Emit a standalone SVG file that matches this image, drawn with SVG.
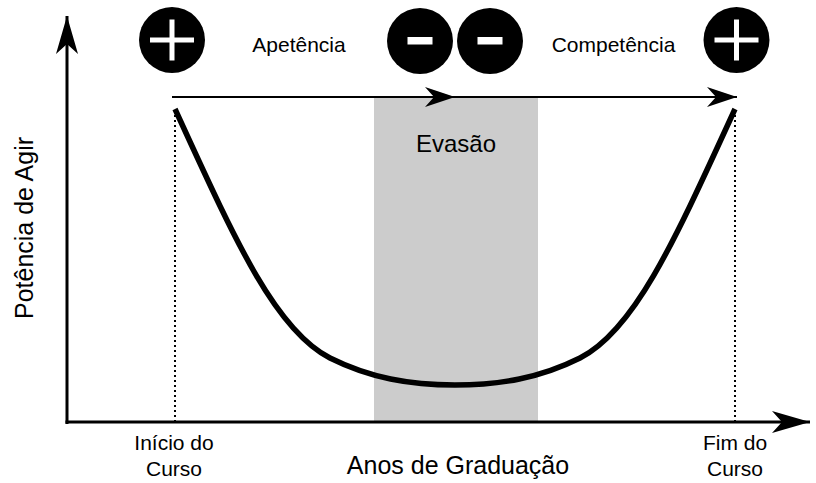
<svg xmlns="http://www.w3.org/2000/svg" width="816" height="483" viewBox="0 0 816 483">
<style>
text{font-family:"Liberation Sans",Arial,sans-serif;fill:#000}
.lbl{font-size:21px}
.big{font-size:25px}
.dot{stroke:#000;stroke-width:2;stroke-dasharray:2 3;fill:none}
.sign{fill:#fff}
</style>
<defs>
<marker id="ah" markerUnits="userSpaceOnUse" viewBox="-31 -11 32 22" refX="0" refY="0" markerWidth="32" markerHeight="22" orient="auto">
<path d="M0,0 L-30,-10 L-21,0 L-30,10 Z" fill="#000"/>
</marker>
<marker id="ax" markerUnits="userSpaceOnUse" viewBox="-39 -12 40 24" refX="0" refY="0" markerWidth="40" markerHeight="24" orient="auto">
<path d="M0,0 L-38,-11 L-28,0 L-38,11 Z" fill="#000"/>
</marker>
</defs>
<rect id="evasao-band" x="374" y="97" width="164" height="325" fill="#cccccc"/>
<g id="guides">
<line class="dot" x1="175" y1="110" x2="175" y2="421"/>
<line class="dot" x1="735" y1="110" x2="735" y2="421"/>
</g>
<g id="connectors">
<polyline points="172,97 455,97 737,97" fill="none" stroke="#000" stroke-width="2" marker-mid="url(#ah)" marker-end="url(#ah)"/>
<line x1="67" y1="424" x2="67" y2="16" stroke="#000" stroke-width="3" marker-end="url(#ax)"/>
<line x1="65.5" y1="422" x2="810" y2="422" stroke="#000" stroke-width="3" marker-end="url(#ax)"/>
</g>
<path id="curve" d="M175,109 C235,240 275,330 330,358 C370,378 410,385 455,385 C500,385 540,378 580,358 C635,330 675,240 735,109" fill="none" stroke="#000" stroke-width="5.5"/>
<g id="plus-left">
<circle cx="172" cy="40" r="33" fill="#000"/>
<rect class="sign" x="150" y="37.5" width="44" height="5"/>
<rect class="sign" x="169.5" y="19.5" width="5" height="41"/>
</g>
<g id="minus-1">
<circle cx="420" cy="41" r="33" fill="#000"/>
<rect class="sign" x="407.5" y="37" width="25" height="7.5"/>
</g>
<g id="minus-2">
<circle cx="490" cy="41" r="33" fill="#000"/>
<rect class="sign" x="477.5" y="37" width="25" height="7.5"/>
</g>
<g id="plus-right">
<circle cx="736.5" cy="40" r="33" fill="#000"/>
<rect class="sign" x="714.5" y="37.5" width="44" height="5"/>
<rect class="sign" x="734" y="19.5" width="5" height="41"/>
</g>
<g id="labels">
<text class="lbl" x="299" y="52" text-anchor="middle">Apetência</text>
<text class="lbl" x="613.5" y="52" text-anchor="middle">Competência</text>
<text x="456" y="152" text-anchor="middle" style="font-size:24px">Evasão</text>
<text class="big" x="0" y="0" text-anchor="middle" transform="translate(33,228) rotate(-90)">Potência de Agir</text>
<text class="big" x="458" y="474" text-anchor="middle">Anos de Graduação</text>
<text class="lbl" x="174" y="450" text-anchor="middle">Início do</text>
<text class="lbl" x="174" y="476" text-anchor="middle">Curso</text>
<text class="lbl" x="735" y="450" text-anchor="middle">Fim do</text>
<text class="lbl" x="735" y="476" text-anchor="middle">Curso</text>
</g>
</svg>
